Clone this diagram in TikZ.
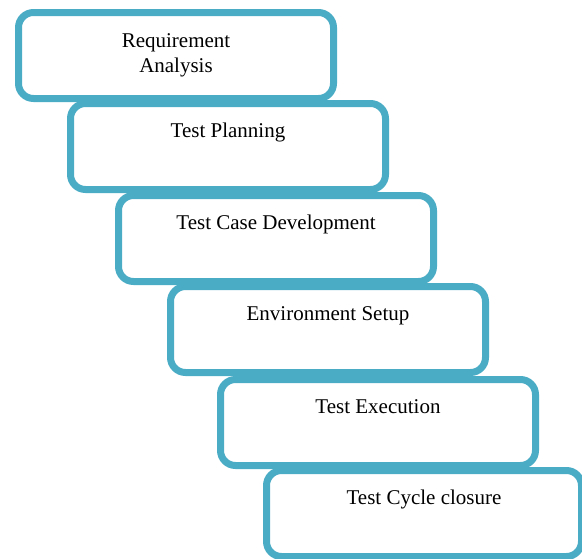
\documentclass[tikz,border=0pt]{standalone}
\usepackage{fontspec}
\setmainfont{Liberation Serif}

\definecolor{stepblue}{RGB}{75,172,198}
\tikzset{
  stage/.style={draw=stepblue, line width=7pt, rounded corners=15pt, fill=white,
    minimum width=315pt, minimum height=86pt, anchor=north west, align=center,
    font=\fontsize{21}{25}\selectfont}
}

\begin{document}
\begin{tikzpicture}[x=1pt,y=-1pt]
			\useasboundingbox (0,0) rectangle (582,558);
			% each stage steps down and to the right of the one before
			\node[stage] (req)  at (15,9)    {Requirement\\Analysis};
			\node[stage] (plan) at (67,100)  {Test Planning\\\strut};
			\node[stage] (dev)  at (115,192) {Test Case Development\\\strut};
			\node[stage] (env)  at (167,283) {Environment Setup\\\strut};
			\node[stage] (exec) at (217,376) {Test Execution\\\strut};
			\node[stage] (clos) at (263,467) {Test Cycle closure\\\strut};
		\end{tikzpicture}
\end{document}
